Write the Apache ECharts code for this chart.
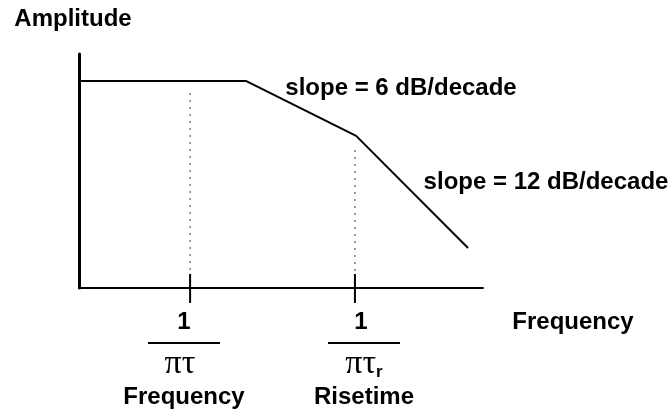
<!DOCTYPE html>
<html lang="en">
<head>
    <meta charset="UTF-8">
    <script src="https://cdn.jsdelivr.net/npm/echarts@6/dist/echarts.min.js"></script>
    <title>Amplitude vs frequency</title>
</head>
<body style="margin:0">
    <div id="main" style="width: 672px;height:418px;"></div>

    <script type="text/javascript">
        // response curve (arbitrary units, 0..100 both ways)
        var responseX = [0.25, 41.3, 68.6, 96.3];
        var responseY = [88.5, 88.5, 65, 17.1];

        // the two corner frequencies, and where the dotted guides stop
        var cornerX = [27.5, 68.3];
        var guideTop = [83.3, 59];
        var tickBelow = -6.4, tickAbove = 6;

        var numerators = ['1', '1'];
        var denominators = ['{pi|πτ}', '{pi|πτ}{sub|r}'];
        var captions = ['Frequency', 'Risetime'];

        var font = '"Liberation Sans", Arial, sans-serif';

        var series = [{
            type: 'line',
            data: responseX.map(function (x, i) { return [x, responseY[i]]; }),
            symbol: 'none',
            lineStyle: { color: '#000', width: 2 },
            z: 5
        }];
        for (var i = 0; i < cornerX.length; i++) {
            series.push({
                type: 'line',
                data: [[cornerX[i], guideTop[i]], [cornerX[i], 0]],
                symbol: 'none',
                lineStyle: { color: '#777', width: 1.5, type: [2, 5] }
            });
            series.push({
                type: 'line',
                data: [[cornerX[i], tickBelow], [cornerX[i], tickAbove]],
                symbol: 'none',
                clip: false,
                lineStyle: { color: '#000', width: 2 }
            });
        }

        var labelX = [184, 364];
        var graphic = [];
        for (var k = 0; k < cornerX.length; k++) {
            graphic.push({
                type: 'text', x: labelX[k] - (k === 0 ? 0 : 3), y: 322,
                style: { text: numerators[k], font: 'bold 24px ' + font, fill: '#000', align: 'center', verticalAlign: 'middle' }
            });
            graphic.push({
                type: 'line', shape: { x1: labelX[k] - 36, y1: 343, x2: labelX[k] + 36, y2: 343 },
                style: { stroke: '#000', lineWidth: 2 }
            });
            graphic.push({
                type: 'text', x: labelX[k] + (k === 0 ? -4 : 0), y: 364,
                style: {
                    text: denominators[k], align: 'center', verticalAlign: 'middle',
                    rich: {
                        pi: { fontFamily: '"Liberation Serif", serif', fontSize: 34, fill: '#000' },
                        sub: { fontFamily: font, fontWeight: 'bold', fontSize: 17, fill: '#000', padding: [16, 0, 0, 0] }
                    }
                }
            });
            graphic.push({
                type: 'text', x: labelX[k], y: 397,
                style: { text: captions[k], font: 'bold 24px ' + font, fill: '#000', align: 'center', verticalAlign: 'middle' }
            });
        }
        graphic.push({
            type: 'text', x: 573, y: 322,
            style: { text: 'Frequency', font: 'bold 24px ' + font, fill: '#000', align: 'center', verticalAlign: 'middle' }
        });
        graphic.push({
            type: 'text', x: 401, y: 88,
            style: { text: 'slope = 6 dB/decade', font: 'bold 24px ' + font, fill: '#000', align: 'center', verticalAlign: 'middle' }
        });
        graphic.push({
            type: 'text', x: 546, y: 182,
            style: { text: 'slope = 12 dB/decade', font: 'bold 24px ' + font, fill: '#000', align: 'center', verticalAlign: 'middle' }
        });

        var myChart = echarts.init(document.getElementById('main'));
        myChart.setOption({
            animation: false,
            backgroundColor: '#fff',
            grid: { left: 79, top: 54, right: 189, bottom: 130, outerBoundsMode: 'none', containLabel: false },
            xAxis: {
                type: 'value', min: 0, max: 100,
                axisLine: { onZero: false, lineStyle: { color: '#000', width: 2 } },
                axisTick: { show: false },
                axisLabel: { show: false },
                splitLine: { show: false }
            },
            yAxis: {
                type: 'value', min: 0, max: 100,
                name: 'Amplitude',
                nameLocation: 'end',
                nameGap: 23,
                nameTextStyle: { fontFamily: font, fontWeight: 'bold', fontSize: 24, color: '#000', align: 'center', padding: [0, 12, 0, 0] },
                axisLine: { show: true, lineStyle: { color: '#000', width: 3 } },
                axisTick: { show: false },
                axisLabel: { show: false },
                splitLine: { show: false }
            },
            series: series,
            graphic: graphic
        });
    </script>
</body>
</html>
